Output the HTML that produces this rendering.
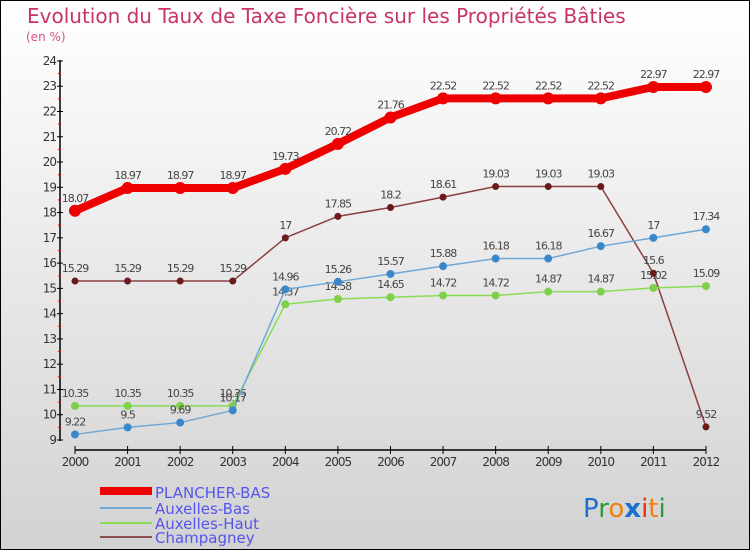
<!DOCTYPE html>
<html><head><meta charset="utf-8"><style>
body{margin:0}
#c{width:750px;height:550px;position:relative;box-sizing:border-box;border:1px solid #000;background:linear-gradient(#fff,#d2d2d2);font-family:"DejaVu Sans","Liberation Sans",sans-serif;overflow:hidden}
</style></head><body>
<div id="c">
<svg id="s" width="750" height="550" style="position:absolute;left:-1px;top:-1px">
<text x="27" y="23" font-size="20" fill="#c8336a">Evolution du Taux de Taxe Foncière sur les Propriétés Bâties</text>
<text x="26" y="41" font-size="12" fill="#d0558a">(en %)</text>
<g id="g"></g>
<g>
<rect x="100" y="487" width="52" height="8" fill="#e00"/>
<text x="155" y="498" font-size="15" fill="#5555ee">PLANCHER-BAS</text>
<rect x="100" y="507" width="52" height="2" fill="#6fa8d6"/>
<text x="155" y="514" font-size="15" fill="#5555ee">Auxelles-Bas</text>
<rect x="100" y="522" width="52" height="2" fill="#88dd55"/>
<text x="155" y="529" font-size="15" fill="#5555ee">Auxelles-Haut</text>
<rect x="100" y="536" width="52" height="2" fill="#8a5050"/>
<text x="155" y="543" font-size="15" fill="#5555ee">Champagney</text>
</g>
<text x="583" y="517" font-size="26" font-family="DejaVu Sans"><tspan fill="#1a70d0">P</tspan><tspan fill="#2a9a3a">r</tspan><tspan fill="#f08010">o</tspan><tspan fill="#1a70d0" font-weight="bold">x</tspan><tspan fill="#e03010">i</tspan><tspan fill="#f08010">t</tspan><tspan fill="#2a9a3a">i</tspan></text>
</svg></div>
<script>
const years=[2000,2001,2002,2003,2004,2005,2006,2007,2008,2009,2010,2011,2012];
const plancher=[18.07,18.97,18.97,18.97,19.73,20.72,21.76,22.52,22.52,22.52,22.52,22.97,22.97];
const auxBas=[9.22,9.5,9.69,10.17,14.96,15.26,15.57,15.88,16.18,16.18,16.67,17,17.34];
const auxHaut=[10.35,10.35,10.35,10.35,14.37,14.58,14.65,14.72,14.72,14.87,14.87,15.02,15.09];
const champ=[15.29,15.29,15.29,15.29,17,17.85,18.2,18.61,19.03,19.03,19.03,15.6,9.52];
const yTicks=[9,10,11,12,13,14,15,16,17,18,19,20,21,22,23,24];
const NS="http://www.w3.org/2000/svg";
const g=document.getElementById('g');
const xs=i=>75+i*52.58;
const ys=v=>440-(v-9)*25.27;
function mk(t,a){const e=document.createElementNS(NS,t);for(const k in a)e.setAttribute(k,a[k]);g.appendChild(e);return e;}
let e=mk('line',{x1:60,y1:60,x2:60,y2:441,stroke:'#000','stroke-width':1.5});

e=mk('line',{x1:75,y1:450,x2:706,y2:450,stroke:'#000','stroke-width':1.5});

yTicks.forEach(v=>{mk('line',{x1:57,x2:63,y1:ys(v),y2:ys(v),stroke:'#000'});
 if(v<24)mk('line',{x1:58,x2:61,y1:ys(v+0.5),y2:ys(v+0.5),stroke:'#e00'});
 e=mk('text',{x:56,y:ys(v)+4,'font-size':12,fill:'#333','text-anchor':'end','letter-spacing':'-1'});e.textContent=v;
 });
years.forEach((y,i)=>{mk('line',{x1:xs(i),x2:xs(i),y1:446,y2:454,stroke:'#000'});
 e=mk('text',{x:xs(i),y:466,'font-size':12,fill:'#333','text-anchor':'middle','letter-spacing':'-1'});e.textContent=y;
 });
function series(name,d,col,w,mcol,r){
 e=mk('polyline',{points:d.map((v,i)=>xs(i)+','+ys(v)).join(' '),fill:'none',stroke:col,'stroke-width':w,'stroke-linejoin':'round'});
 
 d.forEach((v,i)=>{e=mk('circle',{cx:xs(i),cy:ys(v),r:r,fill:mcol,stroke:'#555','stroke-width':r>3?0:0.5});
  
  e=mk('text',{x:xs(i),y:ys(v)-9,'font-size':11,fill:'#444','text-anchor':'middle','letter-spacing':'-1'});e.textContent=v;
  });
}
series('champagney',champ,'#8a4040',1.5,'#6b1a1a',3.5);
series('auxelles-haut',auxHaut,'#88dd55',1.5,'#7ed04a',4);
series('auxelles-bas',auxBas,'#6fa8d6',1.5,'#3a88cc',4);
series('plancher-bas',plancher,'#e00',8,'#e00',6);
</script>
</body></html>
